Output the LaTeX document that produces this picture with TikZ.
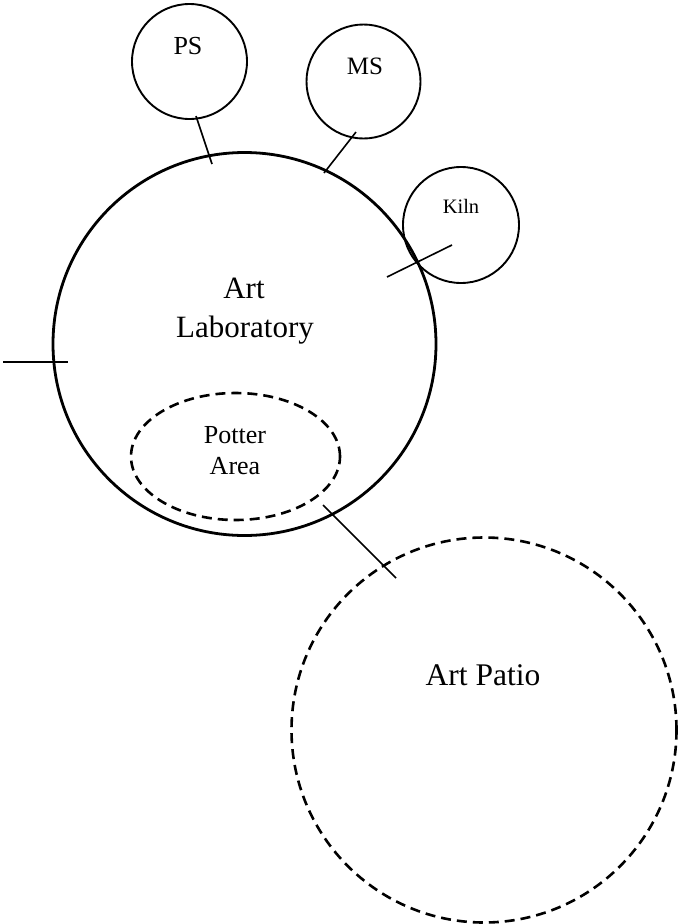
\documentclass[tikz,border=0pt]{standalone}
\usepackage{fontspec}
\setmainfont{Liberation Serif}
\usetikzlibrary{shapes.geometric}
\tikzset{
  room/.style={circle, draw, inner sep=0pt, line width=1.9pt},
  bigroom/.style={circle, draw, inner sep=0pt, line width=2.8pt},
  dashroom/.style={draw, inner sep=0pt, line width=2.6pt, dash pattern=on 10pt off 6pt},
  link/.style={line width=1.6pt},
  lbl/.style={inner sep=0pt, anchor=base, align=center}
}
\begin{document}
\begin{tikzpicture}[x=1pt,y=-1pt]
\useasboundingbox (0,0) rectangle (679,924);
% rooms
\node[bigroom, minimum size=383pt] (lab) at (244.5,344) {};
\node[room, minimum size=115pt] (ps) at (189.5,61.5) {};
\node[room, minimum size=114pt] (ms) at (363.5,81.5) {};
\node[room, minimum size=116pt] (kiln) at (461,225) {};
\node[dashroom, ellipse, minimum width=209pt, minimum height=127pt] (potter) at (235.5,456.5) {};
\node[dashroom, circle, minimum size=385pt] (patio) at (484,730) {};
% labels
\node[lbl, font=\fontsize{26}{30}\selectfont] (pst) at (188,54) {PS};
\node[lbl, font=\fontsize{25}{30}\selectfont] (mst) at (365,74) {MS};
\node[lbl, font=\fontsize{20.5}{24}\selectfont] (kilnt) at (461,213) {Kiln};
\node[lbl, font=\fontsize{31}{39}\selectfont] (labt1) at (244,298) {Art};
\node[lbl, font=\fontsize{31}{39}\selectfont] (labt2) at (245,337) {Laboratory};
\node[lbl, font=\fontsize{26}{31}\selectfont] (pottert1) at (235,443) {Potter};
\node[lbl, font=\fontsize{26}{31}\selectfont] (pottert2) at (235,474) {Area};
\node[lbl, font=\fontsize{31.5}{38}\selectfont] (patiot) at (483,685) {Art Patio};
% connector ends
\coordinate (psa) at (196,116);
\coordinate (psb) at (212,164);
\coordinate (msa) at (356,132);
\coordinate (msb) at (324,173);
\coordinate (kia) at (452,245);
\coordinate (kib) at (387,277);
\coordinate (wa) at (3,362);
\coordinate (wb) at (68,362);
\coordinate (pta) at (323,505);
\coordinate (ptb) at (396,578);
\draw[link] (psa) -- (psb);
\draw[link] (msa) -- (msb);
\draw[link] (kia) -- (kib);
\draw[link] (wa) -- (wb);
\draw[link] (pta) -- (ptb);
\end{tikzpicture}
\end{document}
